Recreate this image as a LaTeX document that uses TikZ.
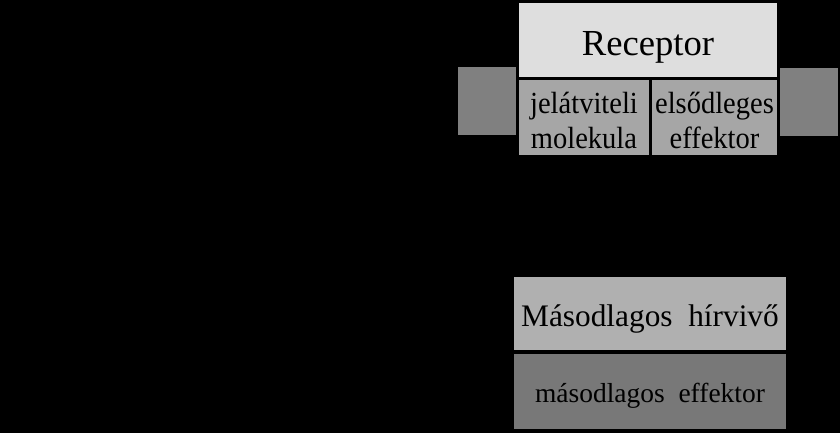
\documentclass[tikz,border=0pt]{standalone}
\usepackage{fontspec}
\setmainfont{Liberation Serif}
\newfontfamily\condserif[FakeStretch=0.93]{Liberation Serif}
\usetikzlibrary{positioning}
\definecolor{boxlight}{gray}{0.87}
\definecolor{boxmid}{gray}{0.65}
\definecolor{boxside}{gray}{0.50}
\definecolor{boxmsg}{gray}{0.69}
\definecolor{boxeff}{gray}{0.47}
\tikzset{
  box/.style       = { rectangle, inner sep=0pt, outer sep=0pt, text=black },
  receptor/.style  = { box, fill=boxlight, minimum width=193.5pt, minimum height=55.5pt,
                       font=\fontsize{27.5}{30}\selectfont, text height=22.5pt, text depth=0pt },
  coupled/.style   = { box, fill=boxmid, minimum height=56.25pt, align=center,
                       font=\condserif\fontsize{23}{26.25}\selectfont,
                       text height=47pt, text depth=0pt },
  side/.style      = { box, fill=boxside, minimum width=43.5pt, minimum height=51pt },
  messenger/.style = { box, fill=boxmsg, minimum width=204pt, minimum height=54.75pt,
                       font=\fontsize{23.5}{26}\selectfont, text height=18.75pt, text depth=0pt },
  effector/.style  = { box, fill=boxeff, minimum width=204pt, minimum height=56.25pt,
                       font=\fontsize{20.6}{24}\selectfont, text height=15.75pt, text depth=0pt }
}

\begin{document}
\begin{tikzpicture}[x=0.75pt,y=-0.75pt]
  \fill [black] (0,0) rectangle (840,433);
  \useasboundingbox (0,0) rectangle (840,433);

  \node (rec)  [receptor] at (648,40) {Receptor};
  \node (jel)  [coupled,minimum width=97.5pt,below right=2.25pt and 0pt of rec.south west] {jelátviteli\\molekula};
  \node (elso) [coupled,minimum width=93.75pt,right=2.25pt of jel] {elsődleges\\effektor};
  \node (sideL) [side,below left=-7.5pt and 2.25pt of rec.south west]  {};
  \node (sideR) [side,below right=-6.75pt and 2.25pt of rec.south east] {};

  \node (msg)  [messenger] at (650,313.5) {Másodlagos\ \ hírvivő};
  \node (eff)  [effector,below=3pt of msg] {másodlagos\ \ effektor};

\end{tikzpicture}
\end{document}
